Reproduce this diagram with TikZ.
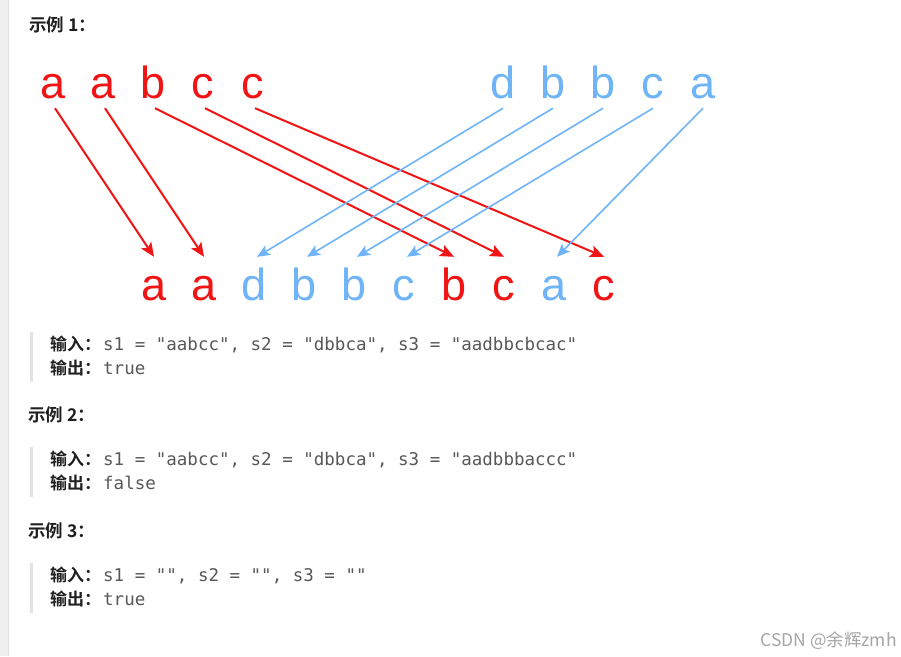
\documentclass[tikz,border=0pt]{standalone}
\usepackage{fontspec}
\usepackage{xcolor}
\usepackage{tikz}
\usetikzlibrary{positioning,arrows.meta,calc}
\setmonofont{DejaVu Sans Mono}
\newfontfamily\letterfont{Liberation Sans}
\newfontfamily\cjkfont{Noto Sans CJK SC}
\newfontfamily\cjkbold{Noto Sans CJK SC Bold}
\definecolor{sred}{RGB}{240, 20, 20}
\definecolor{sblue}{RGB}{110, 180, 246}
\definecolor{codegray}{RGB}{88, 88, 88}
\definecolor{bargray}{RGB}{226, 226, 226}

\begin{document}
\begin{tikzpicture}[x=1pt, y=-1pt,
    letter/.style={inner xsep=0pt, inner ysep=10pt, text height=33pt, text depth=0pt, anchor=base, font=\letterfont\fontsize{45}{45}\selectfont},
    redletter/.style={letter, text=sred},
    blueletter/.style={letter, text=sblue},
    redarrow/.style={draw=sred, line width=2pt, -{Stealth[length=14pt, width=12pt, inset=3pt]}},
    bluearrow/.style={draw=sblue, line width=1.6pt, -{Stealth[length=13pt, width=11pt, inset=3pt]}},
    heading/.style={inner sep=0pt, anchor=base west, text=black!88, font=\cjkbold\fontsize{17.5}{17.5}\selectfont},
    tag/.style={inner sep=0pt, anchor=base west, text=black!88, font=\cjkbold\fontsize{17}{17}\selectfont},
    code/.style={inner sep=0pt, anchor=base west, text=codegray, font=\ttfamily\fontsize{17.5}{17.5}\selectfont},
    quotebar/.style={draw=none, fill=bargray}
]
\useasboundingbox (0,0) rectangle (901,656);
\fill[white] (0,0) rectangle (901,656);

% page margin on the left
\fill[black!6] (0,0) rectangle (8,656);
\draw[black!12, line width=1pt] (8.5,0) -- (8.5,656);

% Example 1
\node[heading] (ex1) at (29,31) {示例 1：};

% s1 on the left
\node[redletter] (p1) at (53,98) {a};
\node[redletter] (p2) at (103,98) {a};
\node[redletter] (p3) at (153,98) {b};
\node[redletter] (p4) at (203,98) {c};
\node[redletter] (p5) at (253,98) {c};

% s2 on the right
\node[blueletter] (q1) at (503,98) {d};
\node[blueletter] (q2) at (553,98) {b};
\node[blueletter] (q3) at (603,98) {b};
\node[blueletter] (q4) at (653,98) {c};
\node[blueletter] (q5) at (703,98) {a};

% s3 below, letters 50pt apart
\node[redletter] (r1) at (154,300) {a};
\node[redletter] (r2) at (204,300) {a};
\node[blueletter] (r3) at (254,300) {d};
\node[blueletter] (r4) at (304,300) {b};
\node[blueletter] (r5) at (354,300) {b};
\node[blueletter] (r6) at (404,300) {c};
\node[redletter] (r7) at (454,300) {b};
\node[redletter] (r8) at (504,300) {c};
\node[blueletter] (r9) at (554,300) {a};
\node[redletter] (r10) at (604,300) {c};

% s1 -> s3
\draw[redarrow] ([xshift=2pt]p1.south) -- (r1.north);
\draw[redarrow] ([xshift=2pt]p2.south) -- (r2.north);
\draw[redarrow] ([xshift=2pt]p3.south) -- (r7.north);
\draw[redarrow] ([xshift=2pt]p4.south) -- (r8.north);
\draw[redarrow] ([xshift=2pt]p5.south) -- (r10.north);

% s2 -> s3
\draw[bluearrow] (q1.south) -- ([xshift=3pt]r3.north);
\draw[bluearrow] (q2.south) -- ([xshift=3pt]r4.north);
\draw[bluearrow] (q3.south) -- ([xshift=3pt]r5.north);
\draw[bluearrow] (q4.south) -- ([xshift=3pt]r6.north);
\draw[bluearrow] (q5.south) -- ([xshift=3pt]r9.north);

% input / output block 1
\fill[quotebar] (30,332) rectangle (33,382);
\node[tag] (in1) at (50,350) {输入：};
\node[code] (in1code) at (103,350) {s1 = "aabcc", s2 = "dbbca", s3 = "aadbbcbcac"};
\node[tag] (out1) at (50,374) {输出：};
\node[code] (out1code) at (103,374) {true};

% Example 2
\node[heading] (ex2) at (28,421) {示例 2：};
\fill[quotebar] (30,447) rectangle (33,497);
\node[tag] (in2) at (50,465) {输入：};
\node[code] (in2code) at (103,465) {s1 = "aabcc", s2 = "dbbca", s3 = "aadbbbaccc"};
\node[tag] (out2) at (50,489) {输出：};
\node[code] (out2code) at (103,489) {false};

% Example 3
\node[heading] (ex3) at (28,537) {示例 3：};
\fill[quotebar] (30,563) rectangle (33,613);
\node[tag] (in3) at (50,581) {输入：};
\node[code] (in3code) at (103,581) {s1 = "", s2 = "", s3 = ""};
\node[tag] (out3) at (50,605) {输出：};
\node[code] (out3code) at (103,605) {true};

% watermark
\node[inner sep=0pt, anchor=base east, text=black!35, font=\cjkfont\fontsize{17.5}{17.5}\selectfont] (mark) at (897,646) {CSDN @余辉zmh};

\end{tikzpicture}
\end{document}
